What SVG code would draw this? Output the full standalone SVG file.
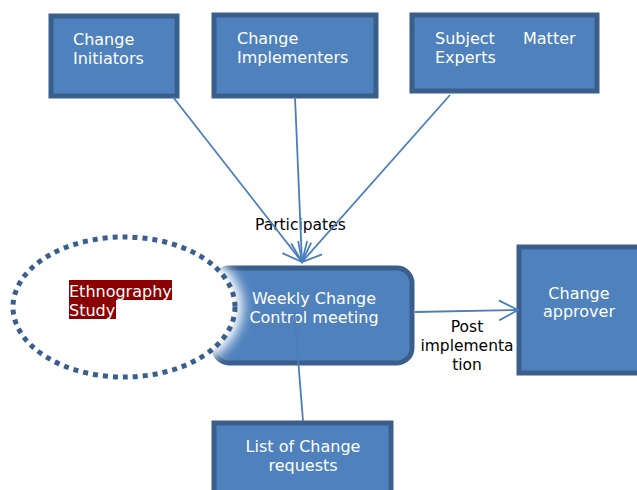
<svg xmlns="http://www.w3.org/2000/svg" width="637" height="490" viewBox="0 0 637 490">
<style>
.box{fill:#4f81bd;stroke:#3a5f8c;stroke-width:5}
.wt{fill:#ffffff;font-family:"DejaVu Sans",Verdana,sans-serif;font-size:16px}
.bt{fill:#000000;font-family:"DejaVu Sans",Verdana,sans-serif;font-size:15.5px}
.con{stroke:#4a7ebb;stroke-width:1.8;fill:none}
</style>
<defs>
<marker id="arr" viewBox="0 0 22 22" refX="20" refY="11" markerWidth="22" markerHeight="22" markerUnits="userSpaceOnUse" orient="auto">
<path d="M1,1 L20,11 L1,21" fill="none" stroke="#4a7ebb" stroke-width="1.8"/>
</marker>
<filter id="blur" x="-20%" y="-20%" width="140%" height="140%"><feGaussianBlur stdDeviation="6"/></filter>
</defs>
<g id="initiators">
<rect class="box" x="51" y="16" width="126" height="80"/>
<text class="wt" x="73" y="45">Change</text>
<text class="wt" x="73" y="64">Initiators</text>
</g>
<g id="implementers">
<rect class="box" x="214" y="15" width="162" height="81"/>
<text class="wt" x="237" y="44">Change</text>
<text class="wt" x="237" y="63">Implementers</text>
</g>
<g id="experts">
<rect class="box" x="412" y="15" width="185" height="76"/>
<text class="wt" x="435" y="44">Subject</text>
<text class="wt" x="523" y="44">Matter</text>
<text class="wt" x="435" y="63">Experts</text>
</g>
<g id="weekly">
<rect class="box" x="214" y="268" width="198" height="95" rx="15"/>
<text class="wt" x="314" y="304" text-anchor="middle" font-size="15.5">Weekly Change</text>
<text class="wt" x="314" y="323" text-anchor="middle" font-size="15.5">Control meeting</text>
</g>
<g id="approver">
<rect class="box" x="519" y="247" width="125" height="126"/>
<text class="wt" x="579" y="299" text-anchor="middle">Change</text>
<text class="wt" x="579" y="317" text-anchor="middle">approver</text>
</g>
<g id="list">
<rect class="box" x="214" y="423" width="177" height="75"/>
<text class="wt" x="303" y="452" text-anchor="middle" font-size="15.5">List of Change</text>
<text class="wt" x="303" y="471" text-anchor="middle" font-size="15.5">requests</text>
</g>
<g id="ethnography">
<ellipse cx="124" cy="307" rx="119" ry="77" fill="#ffffff" filter="url(#blur)"/>
<ellipse cx="124" cy="307" rx="111" ry="70" fill="#ffffff" stroke="#3a5f8c" stroke-width="5" stroke-dasharray="5 5"/>
<rect x="69" y="280" width="103" height="20" fill="#8b0000"/>
<rect x="69" y="300" width="47" height="19" fill="#8b0000"/>
<text class="wt" x="69" y="297" font-size="15.5">Ethnography</text>
<text class="wt" x="69" y="316" font-size="15.5">Study</text>
</g>
<g id="labels">
<text class="bt" x="255" y="230">Participates</text>
<text class="bt" x="467" y="332" text-anchor="middle">Post</text>
<text class="bt" x="467" y="351" text-anchor="middle">implementa</text>
<text class="bt" x="467" y="370" text-anchor="middle">tion</text>
</g>
<g id="connectors">
<line class="con" x1="173" y1="97" x2="302" y2="262" marker-end="url(#arr)"/>
<line class="con" x1="295" y1="97" x2="302" y2="262" marker-end="url(#arr)"/>
<line class="con" x1="450" y1="95" x2="302" y2="262" marker-end="url(#arr)"/>
<line class="con" x1="415" y1="312" x2="518" y2="310" marker-end="url(#arr)"/>
<line class="con" x1="294" y1="308" x2="303" y2="421"/>
</g>
</svg>
